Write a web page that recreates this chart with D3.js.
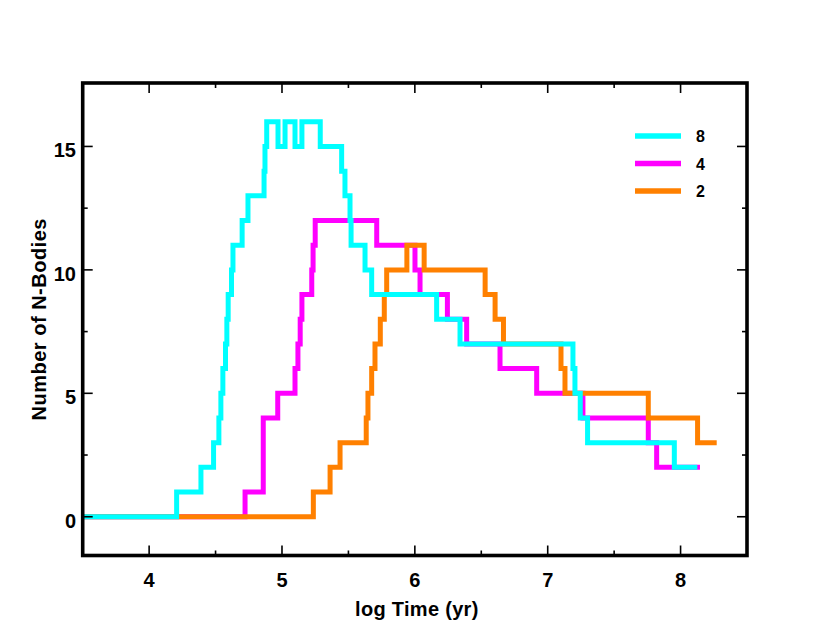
<!DOCTYPE html>
<html>
<head>
<meta charset="utf-8">
<script src="https://cdn.jsdelivr.net/npm/d3@7"></script>
<style>
	body { margin: 0; background: #fff; }
	svg { display: block; }
	text { font-family: 'Liberation Sans', Arial, Helvetica, sans-serif; font-weight: bold; fill: #000; }
	.series { fill: none; stroke-width: 5; stroke-linejoin: miter; stroke-linecap: butt; }
	.tick-line { stroke: #000; stroke-width: 1.6; }
</style>
</head>
<body>
<div id="chart"></div>
<script>

// step data: log time where each count starts, and the count
var t8 = [3.5, 4.207, 4.39, 4.485, 4.525, 4.54, 4.555, 4.575, 4.585, 4.595, 4.62, 4.631, 4.70, 4.744, 4.865, 4.872, 4.885, 4.97, 5.023, 5.098, 5.15, 5.288, 5.449, 5.474, 5.512, 5.52, 5.625, 5.675, 6.164, 6.34, 7.19, 7.205, 7.245, 7.30, 7.953, 8.126]
var n8 = [0, 1, 2, 3, 4, 5, 6, 7, 8, 9, 10, 11, 12, 13, 14, 15, 16, 15, 16, 15, 16, 15, 14, 13, 12, 11, 10, 9, 8, 7, 6, 5, 4, 3, 2, 2]

var t4 = [3.5, 4.722, 4.859, 4.968, 5.098, 5.12, 5.137, 5.15, 5.224, 5.234, 5.25, 5.713, 6.001, 6.039, 6.245, 6.39, 6.641, 6.917, 7.265, 7.757, 7.82, 8.146]
var n4 = [0, 1, 4, 5, 6, 7, 8, 9, 10, 11, 12, 11, 10, 9, 8, 7, 6, 5, 4, 3, 2, 2]

var t2 = [3.5, 5.236, 5.362, 5.437, 5.634, 5.647, 5.675, 5.70, 5.74, 5.77, 5.788, 5.94, 6.07, 6.529, 6.604, 6.667, 7.10, 7.13, 7.757, 8.128, 8.272]
var n2 = [0, 1, 2, 3, 4, 5, 6, 7, 8, 9, 10, 11, 10, 9, 8, 7, 6, 5, 4, 3, 3]

var seriesNames = ['8', '4', '2']
var seriesColors = ['#00ffff', '#ff00ff', '#ff8000']

var xMajorTicks = [4, 5, 6, 7, 8]
var xMinorTicks = [4.5, 5.5, 6.5, 7.5]
var yMajorTicks = [0, 5, 10, 15]
var yMinorTicks = [2.5, 7.5, 12.5]

var xLabel = 'log Time (yr)'
var yLabel = 'Number of N-Bodies'

var W = 830
var H = 641
var plot = { left: 82.7, right: 747, top: 83, bottom: 555.5 }

var xScale = d3.scaleLinear()
	.domain([3.5, 8.5])
	.range([plot.left, plot.right])

var yScale = d3.scaleLinear()
	.domain([-1.57, 17.57])
	.range([plot.bottom, plot.top])

var svg = d3.select('#chart')
	.append('svg')
	.attr('width', W)
	.attr('height', H)

svg.append('rect')
	.attr('width', W)
	.attr('height', H)
	.attr('fill', '#fff')

var zip = function(ts, ns) {
	return ts.map(function(t, i) { return [t, ns[i]] })
}

var series = [
	{ name: seriesNames[0], color: seriesColors[0], values: zip(t8, n8) },
	{ name: seriesNames[1], color: seriesColors[1], values: zip(t4, n4) },
	{ name: seriesNames[2], color: seriesColors[2], values: zip(t2, n2) }
]

var line = d3.line()
	.x(function(d) { return xScale(d[0]) })
	.y(function(d) { return yScale(d[1]) })
	.curve(d3.curveStepAfter)

svg.append('defs').append('clipPath')
	.attr('id', 'plot-clip')
	.append('rect')
	.attr('x', plot.left)
	.attr('y', plot.top)
	.attr('width', plot.right - plot.left)
	.attr('height', plot.bottom - plot.top)

// magenta first, then orange, cyan ends up on top
var drawOrder = [series[1], series[2], series[0]]

svg.append('g')
	.attr('clip-path', 'url(#plot-clip)')
	.selectAll('path')
	.data(drawOrder)
	.enter().append('path')
	.attr('class', 'series')
	.attr('stroke', function(d) { return d.color })
	.attr('d', function(d) { return line(d.values) })

// ticks on all four sides, pointing in
var ticks = svg.append('g')

var addTicks = function(vals, len, horizontal) {
	vals.forEach(function(v) {
		if (horizontal) {
			ticks.append('line').attr('class', 'tick-line')
				.attr('x1', xScale(v)).attr('x2', xScale(v))
				.attr('y1', plot.bottom).attr('y2', plot.bottom - len)
			ticks.append('line').attr('class', 'tick-line')
				.attr('x1', xScale(v)).attr('x2', xScale(v))
				.attr('y1', plot.top).attr('y2', plot.top + len)
		} else {
			ticks.append('line').attr('class', 'tick-line')
				.attr('y1', yScale(v)).attr('y2', yScale(v))
				.attr('x1', plot.left).attr('x2', plot.left + len)
			ticks.append('line').attr('class', 'tick-line')
				.attr('y1', yScale(v)).attr('y2', yScale(v))
				.attr('x1', plot.right).attr('x2', plot.right - len)
		}
	})
}

addTicks(xMajorTicks, 10, true)
addTicks(xMinorTicks, 5, true)
addTicks(yMajorTicks, 10, false)
addTicks(yMinorTicks, 5, false)

svg.append('rect')
	.attr('x', plot.left)
	.attr('y', plot.top)
	.attr('width', plot.right - plot.left)
	.attr('height', plot.bottom - plot.top)
	.attr('fill', 'none')
	.attr('stroke', '#000')
	.attr('stroke-width', 3.6)

svg.append('g').selectAll('text')
	.data(xMajorTicks)
	.enter().append('text')
	.attr('x', function(d) { return xScale(d) })
	.attr('y', 587)
	.attr('text-anchor', 'middle')
	.style('font-size', '20px')
	.text(function(d) { return d })

svg.append('g').selectAll('text')
	.data(yMajorTicks)
	.enter().append('text')
	.attr('x', 76)
	.attr('y', function(d) { return yScale(d) + 11 })
	.attr('text-anchor', 'end')
	.style('font-size', '20px')
	.text(function(d) { return d })

svg.append('text')
	.attr('x', (plot.left + plot.right) / 2 + 2)
	.attr('y', 616)
	.attr('text-anchor', 'middle')
	.style('font-size', '20px')
	.style('letter-spacing', '0.3px')
	.text(xLabel)

svg.append('text')
	.attr('transform', 'translate(46,' + ((plot.top + plot.bottom) / 2) + ') rotate(-90)')
	.attr('text-anchor', 'middle')
	.style('font-size', '20px')
	.style('letter-spacing', '0.5px')
	.text(yLabel)

// legend
var legend = svg.append('g')
	.attr('transform', 'translate(635,136)')

var legendItems = legend.selectAll('g')
	.data(series)
	.enter().append('g')
	.attr('transform', function(d, i) { return 'translate(0,' + (i * 27.5) + ')' })

legendItems.append('line')
	.attr('x1', 0)
	.attr('x2', 46)
	.attr('stroke', function(d) { return d.color })
	.attr('stroke-width', 5.5)

legendItems.append('text')
	.attr('x', 61)
	.attr('y', 6)
	.style('font-size', '16px')
	.text(function(d) { return d.name })

</script>
</body>
</html>
